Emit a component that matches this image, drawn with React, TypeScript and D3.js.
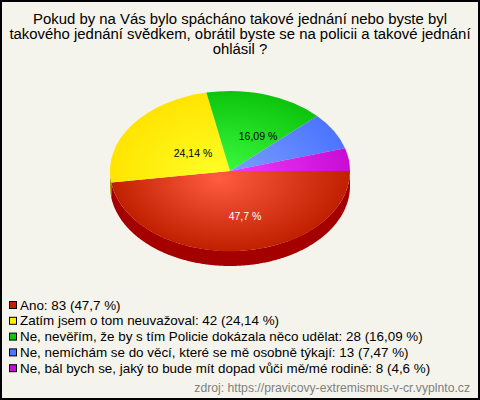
import React from "react";
import * as d3 from "d3";

const categories = [
  "Ano",
  "Zatím jsem o tom neuvažoval",
  "Ne, nevěřím, že by s tím Policie dokázala něco udělat",
  "Ne, nemíchám se do věcí, které se mě osobně týkají",
  "Ne, bál bych se, jaký to bude mít dopad vůči mě/mé rodině",
];
const counts = [83, 42, 28, 13, 8];
const percentLabels = ["47,7", "24,14", "16,09", "7,47", "4,6"];
const innerColors = ["#ff5c40", "#ffff28", "#40ff44", "#80a4ff", "#f440ff"];
const outerColors = ["#c01f00", "#ffe400", "#0cc40c", "#4c74ff", "#c80cd4"];
const legendColors = ["#c22000", "#ffee00", "#0cc80c", "#4c78ff", "#c80cd8"];
const sideColors = ["#a50000", "#b09a00", "#088008", "#3050b0", "#800888"];
const titleLines = [
  "Pokud by na Vás bylo spácháno takové jednání nebo byste byl",
  "takového jednání svědkem, obrátil byste se na policii a takové jednání",
  "ohlásil ?",
];
const source = "zdroj: https://pravicovy-extremismus-v-cr.vyplnto.cz";
const labelledSlices = [0, 1, 2];
const labelShiftX = [10, 17, 7];
const labelShiftY = [-1, 7, 9];

const W = 480, H = 400;
const cx = 230, cy = 171, rx = 120, ry = 80, depth = 15;
const font = "'Liberation Sans', Arial, sans-serif";

export default function App() {
  const pie = d3.pie<number>().sort(null).startAngle(Math.PI / 2).endAngle(Math.PI / 2 + 2 * Math.PI);
  const arcs = pie(counts);
  const arc = d3.arc<d3.PieArcDatum<number>>().innerRadius(0).outerRadius(1);
  const labelRadius = [0.58, 0.55, 0.58];

  const side = d3.area<number>()
    .x((a) => cx + rx * Math.sin(a))
    .y0((a) => cy - ry * Math.cos(a))
    .y1((a) => cy - ry * Math.cos(a) + depth);

  return (
    <svg width={W} height={H} viewBox={`0 0 ${W} ${H}`} style={{ position: "fixed", left: 0, top: 0, display: "block" }}>
      <defs>
        {arcs.map((_, i) => (
          <radialGradient key={i} id={`g${i}`} gradientUnits="userSpaceOnUse" cx={0} cy={0} fx={-0.1} fy={0.1} r={1}>
            <stop offset="0" stopColor={innerColors[i]} />
            <stop offset="1" stopColor={outerColors[i]} />
          </radialGradient>
        ))}
      </defs>
      <rect x={1} y={1} width={W - 2} height={H - 2} fill="#f5f4ec" stroke="#000" strokeWidth={2} />
      <text fontFamily={font} fontSize={14.9} fill="#000" textAnchor="middle">
        {titleLines.map((l, i) => (
          <tspan key={i} x={240} y={24 + i * 15}>{l}</tspan>
        ))}
      </text>
      {arcs.map((d, i) => {
        const a0 = Math.max(d.startAngle, Math.PI / 2);
        const a1 = Math.min(d.endAngle, 1.5 * Math.PI);
        if (a1 <= a0) return null;
        const angles = d3.range(a0, a1, 0.01).concat(a1);
        return <path key={i} d={side(angles) ?? ""} fill={sideColors[i]} />;
      })}
      <g transform={`translate(${cx},${cy}) scale(${rx},${ry})`}>
        {arcs.map((d, i) => (
          <path key={i} d={arc(d) ?? ""} fill={`url(#g${i})`} />
        ))}
      </g>
      {labelledSlices.map((i) => {
        const d = arcs[i];
        const mid = (d.startAngle + d.endAngle) / 2;
        const r = labelRadius[i];
        return (
          <text key={i} x={cx + rx * r * Math.sin(mid) + labelShiftX[i]} y={cy - ry * r * Math.cos(mid) + 4 + labelShiftY[i]}
            fontFamily={font} fontSize={10.5} textAnchor="middle" fill={i === 0 ? "#fff" : "#000"}>
            {percentLabels[i]} %
          </text>
        );
      })}
      {categories.map((c, i) => (
        <g key={i}>
          <rect x={9.5} y={301.5 + i * 15.8} width={7} height={7} fill={legendColors[i]} stroke="#000" strokeWidth={1} />
          <text x={20} y={309.5 + i * 15.8} fontFamily={font} fontSize={13.4} fill="#000">
            {c}: {counts[i]} ({percentLabels[i]} %)
          </text>
        </g>
      ))}
      <text x={470} y={392} textAnchor="end" fontFamily={font} fontSize={12.2} fill="#808080">{source}</text>
    </svg>
  );
}
